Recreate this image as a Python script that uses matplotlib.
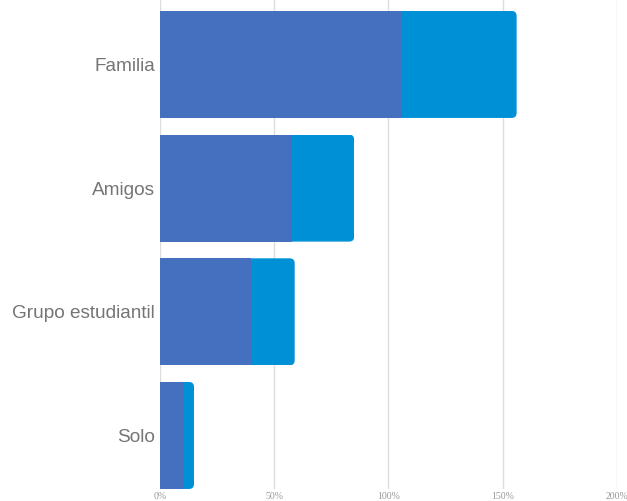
import matplotlib.pyplot as plt
from matplotlib.patches import FancyBboxPatch

categories = ['Familia', 'Amigos', 'Grupo estudiantil', 'Solo']
first_part = [106, 58, 40, 10]
second_part = [50, 27, 19, 5]
xticks = [0, 50, 100, 150, 200]
xtick_labels = ['0%', '50%', '100%', '150%', '200%']

color_a = '#4570bf'
color_b = '#0090d6'

fig = plt.figure(figsize=(6.27, 5.01), dpi=100)
ax = fig.add_axes([0.2547, 0.024, 0.7298, 0.976])

ypos = list(range(len(categories)))
bar_h = 0.865
bars1 = ax.barh(ypos, first_part, height=bar_h, color=color_a, zorder=3)
bars2 = ax.barh(ypos, second_part, left=first_part, height=bar_h, color=color_b, zorder=3)

ax.set_xlim(0, 200)
ax.set_ylim(3.4325, -0.521)

# round the right end of each stacked bar by clipping to a rounded box
fig.canvas.draw()
px_x = ax.transData.transform((1, 0))[0] - ax.transData.transform((0, 0))[0]
px_y = abs(ax.transData.transform((0, 1))[1] - ax.transData.transform((0, 0))[1])
radius_px = 5
r_x = radius_px / px_x
aspect = (radius_px / px_y) / r_x
for b1, b2 in zip(bars1, bars2):
    x0 = b1.get_x()
    x1 = b2.get_x() + b2.get_width()
    y0 = b2.get_y()
    h = b2.get_height()
    clip = FancyBboxPatch((x0 - 10, y0), x1 - x0 + 10, h,
                          boxstyle=f'round,pad=0,rounding_size={r_x}',
                          mutation_aspect=aspect, transform=ax.transData)
    b2.set_clip_path(clip)

ax.set_yticks(ypos)
ax.set_yticklabels(categories, fontsize=13.7, color='#757575',
                   family=['Liberation Sans', 'DejaVu Sans'])
ax.set_xticks(xticks)
ax.set_xticklabels(xtick_labels, fontsize=7, color='#999999',
                   family=['Liberation Serif', 'DejaVu Serif'])
ax.tick_params(axis='y', length=0, pad=3.5)
ax.tick_params(axis='x', length=0, pad=2)

ax.grid(axis='x', color='#dddddd', linewidth=1, zorder=0)
ax.set_axisbelow(True)
for s in ax.spines.values():
    s.set_visible(False)

fig.savefig('out.png', dpi=100)
